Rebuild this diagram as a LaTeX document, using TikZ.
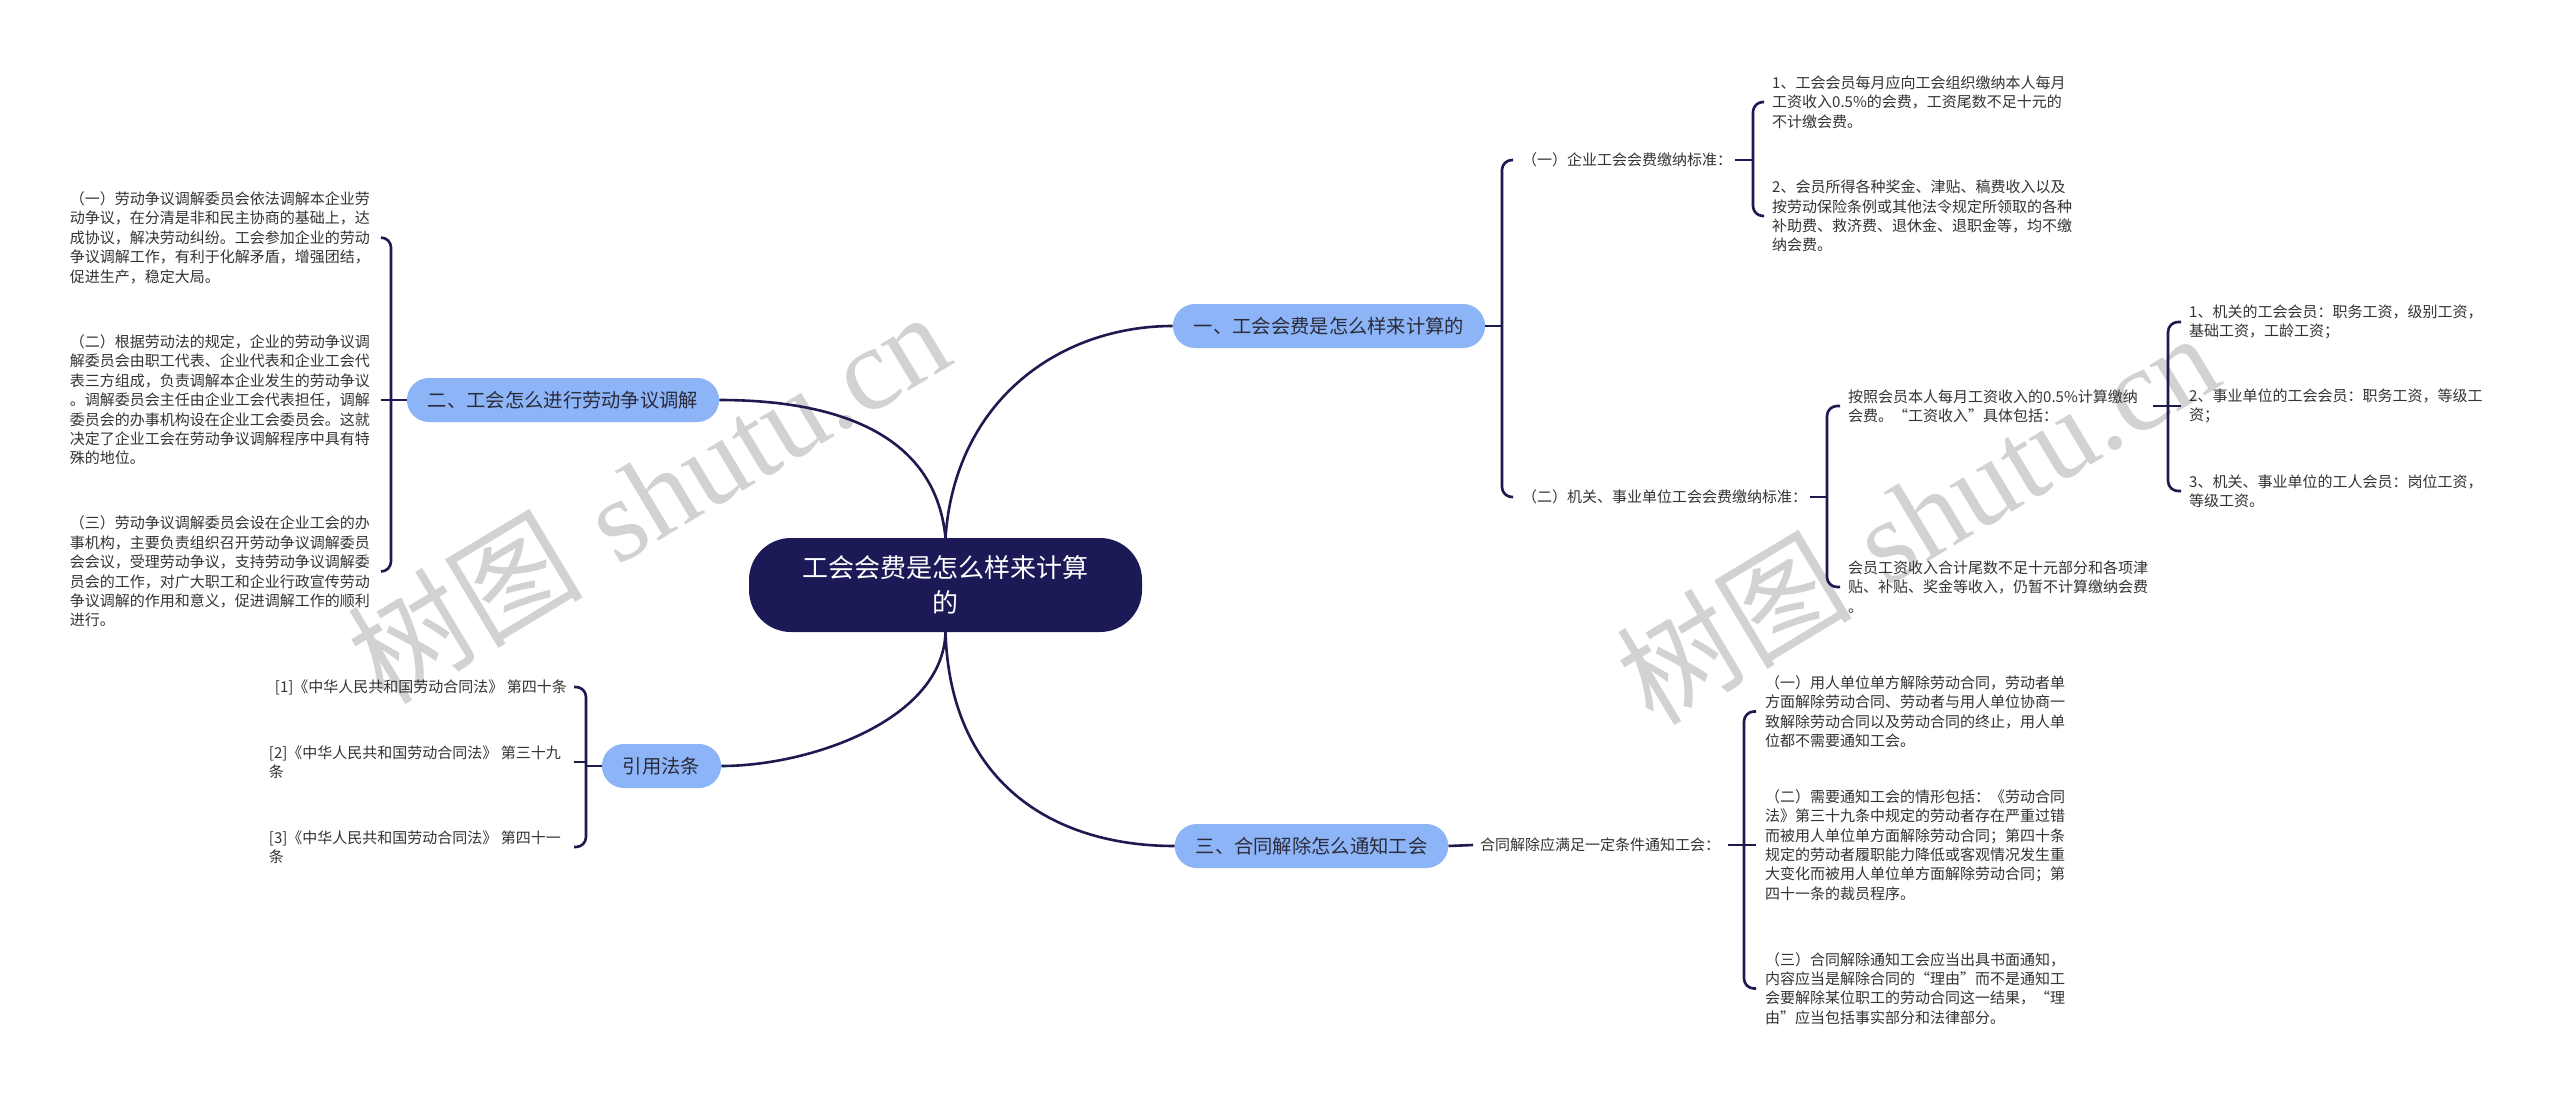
\documentclass[tikz,border=0pt]{standalone}
\usepackage{fontspec}
\newfontfamily\cjk{Noto Sans CJK SC}
\newfontfamily\wmserif{Liberation Serif}
\definecolor{rootc}{HTML}{1C1A56}
\definecolor{bluec}{HTML}{8CB4F6}
\definecolor{linec}{HTML}{1C1A4F}
\definecolor{textc}{HTML}{333333}
\definecolor{btextc}{HTML}{2B2B3A}
\definecolor{wmc}{HTML}{D2D2D2}
\newcommand\leaffont{\cjk\fontsize{15}{19.4}\selectfont}
\newcommand\branchfont{\cjk\fontsize{19.3}{24}\selectfont}
\newcommand\rootfont{\cjk\fontsize{26}{35}\selectfont}
\newcommand\wmfont{\fontsize{118}{118}\selectfont}
\begin{document}
\begin{tikzpicture}[x=1pt,y=-1pt,
  link/.style={draw=linec, line width=2.6pt},
  brk/.style={link, rounded corners=10pt},
  leaf/.style={inner sep=0pt, align=left, font=\leaffont, text=textc},
  branch/.style={fill=bluec, rounded corners=22pt, minimum height=44pt, inner xsep=21pt, inner ysep=0pt, font=\branchfont, text=btextc},
  rootbox/.style={fill=rootc, rounded corners=42pt, minimum width=393pt, minimum height=94pt, align=center, font=\rootfont, text=white},
  wm/.style={text=wmc, font=\wmfont, inner sep=0pt}]
\useasboundingbox (0,0) rectangle (2560,1097);
\fill[white] (0,0) rectangle (2560,1097);
% watermarks
\node[wm, rotate=31] (wm1) at (648,496) {{\cjk 树图} {\wmserif shutu.cn}};
\node[wm, rotate=31] (wm2) at (1917,517) {{\cjk 树图} {\wmserif shutu.cn}};
% root and branches
\node[rootbox] (c) at (945.5,585) {工会会费是怎么样来计算\\的};
\node[branch] (b1) at (1329,326) {一、工会会费是怎么样来计算的};
\node[branch] (b2) at (563,400) {二、工会怎么进行劳动争议调解};
\node[branch] (b4) at (661.5,766) {引用法条};
\node[branch] (b3) at (1311.5,846) {三、合同解除怎么通知工会};
% root connectors
\draw[link] (c.north) .. controls (955,400) and (1060,326) .. (b1.west);
\draw[link] (c.north) .. controls (935,430) and (830,400) .. (b2.east);
\draw[link] (c.south) .. controls (943,720) and (810,766) .. (b4.east);
\draw[link] (c.south) .. controls (950,780) and (1050,846) .. (b3.west);
% branch 2 leaves
\node[leaf, anchor=east] (l21) at (370,237.6) {（一）劳动争议调解委员会依法调解本企业劳\\动争议，在分清是非和民主协商的基础上，达\\成协议，解决劳动纠纷。工会参加企业的劳动\\争议调解工作，有利于化解矛盾，增强团结，\\促进生产，稳定大局。};
\node[leaf, anchor=east] (l22) at (370,400) {（二）根据劳动法的规定，企业的劳动争议调\\解委员会由职工代表、企业代表和企业工会代\\表三方组成，负责调解本企业发生的劳动争议\\。调解委员会主任由企业工会代表担任，调解\\委员会的办事机构设在企业工会委员会。这就\\决定了企业工会在劳动争议调解程序中具有特\\殊的地位。};
\node[leaf, anchor=east] (l23) at (370,571.5) {（三）劳动争议调解委员会设在企业工会的办\\事机构，主要负责组织召开劳动争议调解委员\\会会议，受理劳动争议，支持劳动争议调解委\\员会的工作，对广大职工和企业行政宣传劳动\\争议调解的作用和意义，促进调解工作的顺利\\进行。};
\coordinate (s2) at (391,400);
\draw[brk] ([xshift=11pt]l21.east) -| (s2) |- ([xshift=11pt]l23.east);
\draw[link] (b2.west) -- ([xshift=11pt]l22.east);
% citation leaves
\node[leaf, anchor=east] (lr1) at (567,687) {[1]《中华人民共和国劳动合同法》 第四十条};
\node[leaf, anchor=east] (lr2) at (561,762) {[2]《中华人民共和国劳动合同法》 第三十九\\条};
\node[leaf, anchor=east] (lr3) at (561,847) {[3]《中华人民共和国劳动合同法》 第四十一\\条};
\coordinate (s4) at (586,766);
\draw[brk] ([xshift=7pt]lr1.east) -| (s4) |- ([xshift=13pt]lr3.east);
\draw[link] (b4.west) -- (s4);
\draw[link] ([xshift=13pt]lr2.east) -- (s4 |- lr2.east);
% branch 1
\node[leaf, anchor=west] (l11) at (1522,160) {（一）企业工会会费缴纳标准：};
\node[leaf, anchor=west] (l12) at (1522,497) {（二）机关、事业单位工会会费缴纳标准：};
\coordinate (s1) at (1502,326);
\draw[link] (b1.east) -- (s1);
\draw[brk] ([xshift=-9pt]l11.west) -| (s1) |- ([xshift=-9pt]l12.west);
\node[leaf, anchor=west] (l111) at (1772,102) {1、工会会员每月应向工会组织缴纳本人每月\\工资收入0.5\%的会费，工资尾数不足十元的\\不计缴会费。};
\node[leaf, anchor=west] (l112) at (1772,216) {2、会员所得各种奖金、津贴、稿费收入以及\\按劳动保险条例或其他法令规定所领取的各种\\补助费、救济费、退休金、退职金等，均不缴\\纳会费。};
\coordinate (s11) at (1753,160);
\draw[link] ([xshift=3pt]l11.east) -- (s11);
\draw[brk] ([xshift=-8pt]l111.west) -| (s11) |- ([xshift=-8pt]l112.west);
\node[leaf, anchor=west] (l121) at (1848,406) {按照会员本人每月工资收入的0.5\%计算缴纳\\会费。“工资收入”具体包括：};
\node[leaf, anchor=west] (l122) at (1848,587) {会员工资收入合计尾数不足十元部分和各项津\\贴、补贴、奖金等收入，仍暂不计算缴纳会费\\。};
\coordinate (s12) at (1827,497);
\draw[link] ([xshift=3pt]l12.east) -- (s12);
\draw[brk] ([xshift=-8pt]l121.west) -| (s12) |- ([xshift=-8pt]l122.west);
\node[leaf, anchor=west] (l1211) at (2189,322) {1、机关的工会会员：职务工资，级别工资，\\基础工资，工龄工资；};
\node[leaf, anchor=west] (l1212) at (2189,406) {2、事业单位的工会会员：职务工资，等级工\\资；};
\node[leaf, anchor=west] (l1213) at (2189,491) {3、机关、事业单位的工人会员：岗位工资，\\等级工资。};
\coordinate (s121) at (2168,406);
\draw[link] ([xshift=15pt]l121.east) -- ([xshift=-8pt]l1212.west);
\draw[brk] ([xshift=-8pt]l1211.west) -| (s121) |- ([xshift=-8pt]l1213.west);
% branch 3
\node[leaf, anchor=west] (l31) at (1480,845) {合同解除应满足一定条件通知工会：};
\draw[link] (b3.east) -- ([xshift=-7pt]l31.west);
\node[leaf, anchor=west] (l311) at (1765,711.5) {（一）用人单位单方解除劳动合同，劳动者单\\方面解除劳动合同、劳动者与用人单位协商一\\致解除劳动合同以及劳动合同的终止，用人单\\位都不需要通知工会。};
\node[leaf, anchor=west] (l312) at (1765,845) {（二）需要通知工会的情形包括：《劳动合同\\法》第三十九条中规定的劳动者存在严重过错\\而被用人单位单方面解除劳动合同；第四十条\\规定的劳动者履职能力降低或客观情况发生重\\大变化而被用人单位单方面解除劳动合同；第\\四十一条的裁员程序。};
\node[leaf, anchor=west] (l313) at (1765,988.5) {（三）合同解除通知工会应当出具书面通知，\\内容应当是解除合同的“理由”而不是通知工\\会要解除某位职工的劳动合同这一结果，“理\\由”应当包括事实部分和法律部分。};
\coordinate (s3) at (1744,845);
\draw[link] ([xshift=8pt]l31.east) -- ([xshift=-9pt]l312.west);
\draw[brk] ([xshift=-9pt]l311.west) -| (s3) |- ([xshift=-9pt]l313.west);
\end{tikzpicture}
\end{document}
